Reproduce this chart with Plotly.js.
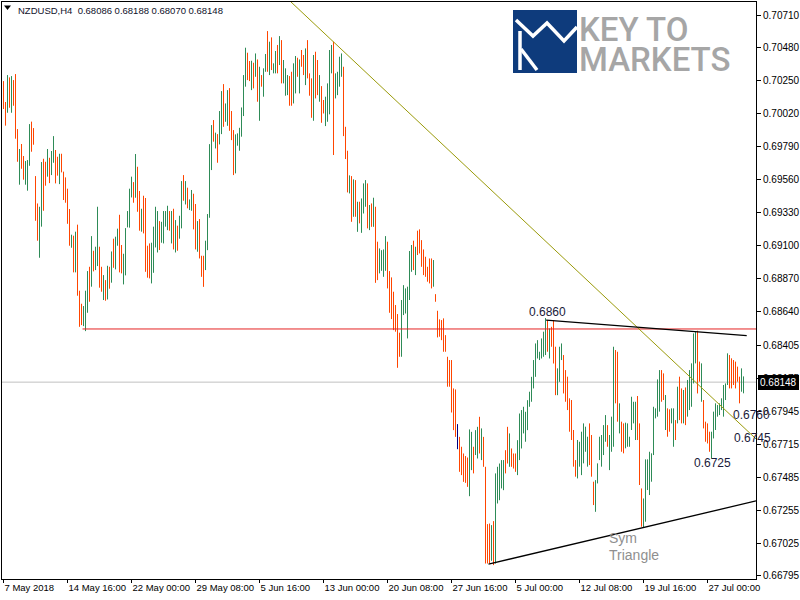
<!DOCTYPE html>
<html>
<head>
<meta charset="utf-8">
<script src="https://cdn.plot.ly/plotly-3.0.1.min.js"></script>
<style>html,body{margin:0;padding:0;background:#fff;}#chart{width:800px;height:600px;}</style>
</head>
<body>
<div id="chart"></div>
<script>
// ---- DATA (NZDUSD H4) ----
const high = [
0.70249,0.70103,0.70291,0.70275,0.70284,0.70256,0.70298,0.69914,0.69775,0.69810,
0.69726,0.69691,0.69698,0.69949,0.69966,0.69921,0.69586,0.69395,0.69372,0.69684,
0.69707,0.69686,0.69775,0.69714,0.69761,0.69865,0.69768,0.69721,0.69742,0.69742,
0.69617,0.69577,0.69498,0.69356,0.69177,0.69170,0.69198,0.69247,0.68786,0.68695,
0.68679,0.68786,0.68923,0.68953,0.69167,0.69065,0.69093,0.69372,0.69093,0.68953,
0.68895,0.68860,0.68960,0.68953,0.69060,0.69149,0.69163,0.69219,0.69316,0.69105,
0.69044,0.69223,0.69342,0.69498,0.69582,0.69544,0.69740,0.69651,0.69482,0.69358,
0.69449,0.69433,0.69100,0.69116,0.69121,0.69233,0.69372,0.69342,0.69272,0.69267,
0.69342,0.69342,0.69379,0.69342,0.69342,0.69358,0.69279,0.69240,0.69309,0.69551,
0.69593,0.69551,0.69505,0.69423,0.69489,0.69463,0.69391,0.69272,0.69286,
0.69030,0.69030,0.69135,0.69321,0.69809,0.69942,0.69977,0.69889,0.69879,0.70040,
0.70179,0.70228,0.70093,0.70186,0.70200,0.70040,0.69907,0.69877,0.69884,0.69923,
0.70065,0.70291,0.70482,0.70447,0.70389,0.70391,0.70377,0.70442,0.70400,0.70349,
0.70291,0.70338,0.70438,0.70598,0.70524,0.70554,0.70373,0.70459,0.70501,0.70563,
0.70535,0.70396,0.70338,0.70291,0.70284,0.70314,0.70373,0.70424,0.70412,0.70400,
0.70466,0.70431,0.70477,0.70535,0.70303,0.70268,0.70431,0.70454,0.70396,0.70291,
0.70214,0.70117,0.70140,0.70233,0.70466,0.70501,0.70524,0.70303,0.70314,0.70419,
0.70442,0.70349,0.69930,0.69763,0.69591,0.69586,0.69563,0.69558,0.69407,0.69407,
0.69430,0.69535,0.69558,0.69535,0.69384,0.69395,0.69435,0.69372,0.69128,0.69081,
0.69069,0.69074,0.69167,0.69128,
0.68923,0.68879,0.68779,0.68686,0.68623,0.68493,0.68721,0.68825,0.68802,0.68814,
0.69063,0.69105,0.69135,0.69093,0.69205,0.69214,0.69139,0.69074,0.69023,0.68953,
0.69011,0.69011,0.69000,0.68762,0.68646,0.68586,0.68581,0.68593,0.68476,0.68325,
0.68302,0.68302,0.68104,0.68097,0.67855,0.67766,0.67697,0.67650,0.67632,0.67622,
0.67818,0.67801,0.67697,0.67813,0.67836,0.67906,0.67825,0.67766,0.67557,0.67157,
0.67161,0.67150,0.67178,0.67511,0.67557,0.67580,0.67604,0.67604,0.67673,0.67836,
0.67790,0.67685,0.67650,0.67650,0.67743,0.67929,0.67953,0.67976,0.67941,0.68022,
0.68081,0.68185,0.68302,0.68418,0.68441,0.68360,0.68453,0.68500,0.68595,0.68581,
0.68523,0.68534,0.68581,0.68395,0.68244,0.68395,0.68418,
0.68337,0.68232,0.68186,0.68035,0.68023,0.67814,0.67604,0.67744,0.67732,0.67802,
0.67860,0.67837,0.67767,0.67860,0.67779,0.67453,0.67464,0.67581,0.67767,0.67779,
0.67848,0.67918,0.67848,0.67779,0.67907,0.68395,0.68372,0.68360,0.68000,0.67872,
0.67860,0.67865,0.67860,0.67767,0.68046,0.68011,0.68011,0.68051,0.67860,0.67406,
0.67336,0.67609,0.67609,0.67662,0.67651,0.67976,0.67965,0.68167,0.68232,0.68232,
0.68209,0.68058,0.67965,0.67958,0.67965,0.67965,0.67883,0.68116,0.68186,0.68104,
0.68093,0.68111,0.68163,0.68232,0.68279,0.68488,0.68500,0.68507,0.68291,0.68279,
0.68023,0.67872,0.67860,0.67802,0.67802,0.67942,0.68000,0.67988,0.68000,0.68035,
0.68128,0.68139,0.68349,0.68337,0.68314,0.68302,0.68291,0.68256,0.68186,0.68244,
0.68188
];
const low = [
0.70054,0.69938,0.70028,0.70063,0.70028,0.70077,0.69847,0.69686,0.69526,0.69637,
0.69561,0.69526,0.69484,0.69658,0.69756,0.69805,0.69274,0.69135,0.69016,0.69233,
0.69344,0.69519,0.69582,0.69537,0.69593,0.69679,0.69535,0.69589,0.69530,0.69612,
0.69419,0.69400,0.69253,0.69100,0.69086,0.68914,0.68914,0.68751,0.68534,0.68546,
0.68539,0.68504,0.68632,0.68709,0.68814,0.68921,0.68930,0.68958,0.68807,0.68779,
0.68721,0.68716,0.68725,0.68800,0.68842,0.68946,0.68935,0.69100,0.68914,0.68907,
0.68830,0.68893,0.69228,0.69226,0.69437,0.69400,0.69435,0.69337,0.69205,0.69198,
0.69186,0.68918,0.68877,0.68872,0.68837,0.68911,0.69088,0.69053,0.69070,0.69121,
0.69116,0.69233,0.69209,0.69205,0.69116,0.69074,0.69053,0.69065,0.69149,0.69221,
0.69414,0.69388,0.69361,0.69349,0.69344,0.69214,0.69074,0.69058,0.69011,
0.68883,0.68813,0.68930,0.69069,0.69295,0.69628,0.69826,0.69779,0.69679,0.69807,
0.69879,0.69930,0.69965,0.69937,0.69902,0.69837,0.69593,0.69605,0.69798,0.69763,
0.69861,0.70005,0.70210,0.70256,0.70249,0.70186,0.70198,0.70279,0.70105,0.69972,
0.70210,0.70140,0.70314,0.70314,0.70291,0.70326,0.70303,0.70303,0.70303,0.70361,
0.70233,0.70233,0.70147,0.70151,0.70077,0.70077,0.70093,0.70163,0.70279,0.70163,
0.70349,0.70291,0.70221,0.70268,0.70147,0.69993,0.69972,0.70128,0.70151,0.70105,
0.69958,0.70023,0.69935,0.69965,0.70017,0.70303,0.69733,0.70128,0.70151,0.70210,
0.70279,0.69865,0.69705,0.69472,0.69465,0.69267,0.69302,0.69302,0.69197,0.69256,
0.69190,0.69325,0.69372,0.69221,0.69209,0.69232,0.69232,0.68841,0.68860,0.68907,
0.68925,0.68883,0.68925,0.68802,
0.68632,0.68588,0.68511,0.68500,0.68248,0.68325,0.68325,0.68616,0.68627,0.68453,
0.68721,0.68918,0.68930,0.68895,0.69035,0.69046,0.68953,0.68895,0.68883,0.68849,
0.68837,0.68802,0.68814,0.68709,0.68460,0.68465,0.68441,0.68360,0.68360,0.68116,
0.68116,0.67936,0.67813,0.67766,0.67680,0.67522,0.67499,0.67452,0.67445,0.67417,
0.67352,0.67534,0.67511,0.67639,0.67615,0.67650,0.67604,0.67557,0.66882,0.66882,
0.66882,0.66901,0.66871,0.66882,0.67301,0.67324,0.67406,0.67394,0.67511,0.67580,
0.67557,0.67557,0.67545,0.67522,0.67499,0.67604,0.67685,0.67790,0.67732,0.67813,
0.67976,0.68011,0.68104,0.68185,0.68313,0.68302,0.68313,0.68325,0.68337,0.68360,
0.68313,0.68395,0.68278,0.68057,0.68057,0.68150,0.68302,
0.68069,0.68011,0.67953,0.67802,0.67744,0.67558,0.67488,0.67476,0.67558,0.67499,
0.67581,0.67662,0.67558,0.67569,0.67488,0.67290,0.67243,0.67441,0.67604,0.67558,
0.67639,0.67732,0.67697,0.67534,0.67662,0.67697,0.68000,0.67872,0.67790,0.67662,
0.67651,0.67686,0.67697,0.67697,0.67814,0.67860,0.67744,0.67744,0.67430,0.67139,
0.67132,0.67174,0.67395,0.67360,0.67453,0.67639,0.67895,0.67907,0.67942,0.68011,
0.68023,0.67814,0.67767,0.67802,0.67860,0.67697,0.67744,0.67860,0.67883,0.67860,
0.67860,0.67848,0.67907,0.67953,0.67976,0.68139,0.68279,0.68069,0.68151,0.68011,
0.67825,0.67732,0.67720,0.67662,0.67616,0.67755,0.67814,0.67907,0.67918,0.67953,
0.67907,0.68023,0.68128,0.68104,0.68104,0.68128,0.68104,0.68151,0.68000,0.68081,
0.68070
];
// u = up bar, d = down bar, n = unchanged
const direction =
"ddududddud"+"duuudddduu"+"dduduuddud"+"ddddududdd"+"uuududuudd"+
"udududuudd"+"uuuuududdu"+"dddduuuudu"+"uuudududuu"+"duduuddudd"+
"duuuududuu"+"duuddduuuu"+"uuddududud"+"uududuudud"+"uuudduudud"+
"duddduddud"+"duuuuduuuu"+"dddudududu"+"uudududduu"+"uudddddddu"+
"uuuuududdd"+"dddddudddd"+"dddddddndd"+"ddduuduudu"+"dddduduuuu"+
"udduddduuu"+"uuuuuuuuuu"+"uududdduuu"+"ddddddduuu"+"uuuddduuuu"+
"uuduuuddud"+"duuuuuuddd"+"uuuuuuuuud"+"dudduududd"+"uduuuuuddu"+
"dddduuuuuu"+"uuudddddduu";

const headerSymbol = "NZDUSD,H4";
const headerOHLC = ["0.68086","0.68188","0.68070","0.68148"];
const lastPrice = 0.68148;
const levelPrice = 0.68519;           // horizontal level
const levelStartBar = 40.5;
const trendLine = {x:[143.7, 377.3], y:[0.70815, 0.67751]};      // falling trendline
const triUpper  = {x:[272.3, 372.6], y:[0.68581, 0.68472]};      // triangle top
const triLower  = {x:[243.5, 377.3], y:[0.66878, 0.67319]};      // triangle bottom

const xTickBars = [1,33,65,97,129,161,193,225,257,289,321,353];
const xTickLabels = ["7 May 2018","14 May 16:00","22 May 00:00","29 May 08:00","5 Jun 16:00",
  "13 Jun 00:00","20 Jun 08:00","27 Jun 16:00","5 Jul 00:00","12 Jul 08:00","19 Jul 16:00","27 Jul 00:00"];
const yTickLabels = ["0.66795","0.67025","0.67255","0.67485","0.67715","0.67945","0.68175","0.68405",
  "0.68640","0.68870","0.69100","0.69330","0.69560","0.69790","0.70020","0.70250","0.70480","0.70710"];
const noteLabels = ["0.6860","0.6760","0.6745","0.6725"];
const patternLabel = ["Sym","Triangle"];
const logoText = ["KEY TO","MARKETS"];

// ---- LAYOUT GEOMETRY ----
const W = 800, H = 600;
const M = {l:2, r:44, t:2, b:21};
const PW = W - M.l - M.r, PH = H - M.t - M.b;
const px = x => (x - M.l) / PW;
const py = y => (M.t + PH - y) / PH;
const FONT = "Liberation Sans, Arial, sans-serif";

function bars(kind, color){
  const xs = [], ys = [];
  for (let i = 0; i < high.length; i++) {
    if (direction[i] !== kind) continue;
    xs.push(i + 1, i + 1, null);
    ys.push(low[i], high[i], null);
  }
  return {type:'scatter', mode:'lines', x:xs, y:ys, hoverinfo:'skip',
          line:{color:color, width:1}, showlegend:false};
}

const traces = [
  bars('u', '#2E8B57'),
  bars('d', '#FF4500'),
  bars('n', '#000080')
];

const shapes = [
  {type:'line', xref:'paper', yref:'y', x0:0, x1:1, y0:lastPrice, y1:lastPrice,
   line:{color:'#C0C0C0', width:1}, layer:'below'},
  {type:'line', xref:'x', yref:'y', x0:levelStartBar, x1:377.25, y0:levelPrice, y1:levelPrice,
   line:{color:'#E52222', width:1}},
  {type:'line', xref:'x', yref:'y', x0:trendLine.x[0], x1:trendLine.x[1], y0:trendLine.y[0], y1:trendLine.y[1],
   line:{color:'#9A9A0A', width:1}},
  {type:'line', xref:'x', yref:'y', x0:triUpper.x[0], x1:triUpper.x[1], y0:triUpper.y[0], y1:triUpper.y[1],
   line:{color:'#000000', width:1.3}},
  {type:'line', xref:'x', yref:'y', x0:triLower.x[0], x1:triLower.x[1], y0:triLower.y[0], y1:triLower.y[1],
   line:{color:'#000000', width:1.3}},
  // header triangle
  {type:'path', xref:'paper', yref:'paper',
   path:`M ${px(4)} ${py(5.5)} L ${px(11)} ${py(5.5)} L ${px(7.5)} ${py(10)} Z`,
   fillcolor:'#000000', line:{width:0}},
  // logo square
  {type:'rect', xref:'paper', yref:'paper', x0:px(513), x1:px(577), y0:py(73), y1:py(10),
   fillcolor:'#0E3B7C', line:{width:0}},
  {type:'path', xref:'paper', yref:'paper',
   path:`M ${px(520)} ${py(31)} L ${px(520)} ${py(70)}`, line:{color:'#FFFFFF', width:3.5}},
  {type:'path', xref:'paper', yref:'paper',
   path:`M ${px(516)} ${py(20)} L ${px(533)} ${py(36)} L ${px(547)} ${py(23)} L ${px(564)} ${py(41)} L ${px(577)} ${py(27)}`,
   line:{color:'#FFFFFF', width:3.5}},
  {type:'path', xref:'paper', yref:'paper',
   path:`M ${px(521)} ${py(49)} L ${px(537)} ${py(70)}`, line:{color:'#FFFFFF', width:3.5}}
];

const ann = (text, x, y, size, color, extra) => Object.assign({
  text:text, xref:'paper', yref:'paper', x:px(x), y:py(y), xanchor:'left', yanchor:'middle',
  showarrow:false, borderpad:0, borderwidth:0, font:{family:FONT, size:size, color:color}
}, extra || {});

const LOGOFONT = {family:'Roboto, sans-serif', size:33, color:'#A6A6A6', weight:500};
const annotations = [
  ann(headerSymbol + '\u00A0\u00A0' + headerOHLC.join('\u00A0'), 17.5, 10.7, 9.5, '#10102A'),
  ann(noteLabels[0], 529, 311.5, 12, '#1A1A3A'),
  ann(noteLabels[1], 733, 414.7, 12, '#1A1A3A'),
  ann(noteLabels[2], 733.5, 438, 12, '#1A1A3A'),
  ann(noteLabels[3], 694, 462.8, 12, '#1A1A3A'),
  ann(patternLabel[0], 609, 538, 14, '#8F8F8F'),
  ann(patternLabel[1], 609, 554.7, 14, '#8F8F8F'),
  ann(logoText[0], 579, 29.5, 33, '#A6A6A6', {font:LOGOFONT}),
  ann(logoText[1], 579, 59.5, 33, '#A6A6A6', {font:LOGOFONT}),
  {text:lastPrice.toFixed(5), xref:'paper', yref:'y', x:px(758), y:lastPrice, xanchor:'left', yanchor:'middle',
   showarrow:false, bgcolor:'#000000', borderpad:2, borderwidth:0,
   font:{family:FONT, size:10, color:'#FFFFFF'}}
];

const layout = {
  width:W, height:H, margin:M, paper_bgcolor:'#FFFFFF', plot_bgcolor:'#FFFFFF',
  showlegend:false, hovermode:false,
  xaxis:{range:[0.25, 377.25], tickmode:'array', tickvals:xTickBars, ticktext:xTickLabels,
    ticks:'outside', ticklen:3, tickcolor:'#000', ticklabelposition:'outside right', tickangle:0,
    tickfont:{family:FONT, size:9.5, color:'#000'}, showline:true, linecolor:'#000', linewidth:1,
    mirror:true, showgrid:false, zeroline:false, fixedrange:true, automargin:false},
  yaxis:{range:[0.66774, 0.70801], side:'right', tickmode:'array',
    tickvals:yTickLabels.map(Number), ticktext:yTickLabels,
    ticks:'outside', ticklen:4, tickcolor:'#000',
    tickfont:{family:FONT, size:10, color:'#000'}, showline:true, linecolor:'#000', linewidth:1,
    mirror:true, showgrid:false, zeroline:false, fixedrange:true, automargin:false},
  shapes:shapes, annotations:annotations
};

Plotly.newPlot('chart', traces, layout, {displayModeBar:false, staticPlot:true});
</script>
</body>
</html>
